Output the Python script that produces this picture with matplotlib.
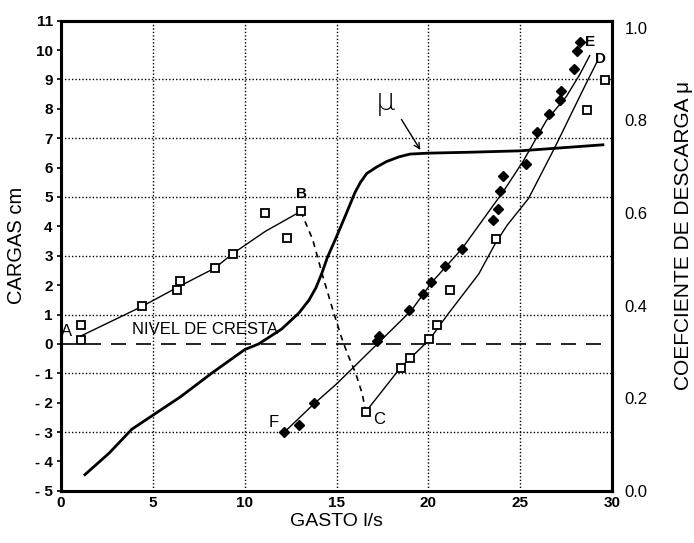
import matplotlib
matplotlib.use("Agg")
import matplotlib.pyplot as plt

plt.rcParams['font.family'] = ['Liberation Sans', 'DejaVu Sans']

# ---- data ----
# open squares, rising branch A-B
sq_ab_x = [1.10, 1.08, 4.39, 6.29, 6.50, 8.40, 9.34, 11.08, 12.31, 13.05]
sq_ab_y = [0.65, 0.14, 1.30, 1.84, 2.14, 2.59, 3.07, 4.45, 3.60, 4.51]
# fitted line A-B
line_ab_x = [1.08, 4.39, 6.35, 8.37, 9.34, 11.12, 13.05]
line_ab_y = [0.27, 1.27, 1.93, 2.58, 3.07, 3.83, 4.51]
# dashed transition B-C
line_bc_x = [13.05, 13.7, 14.25, 14.8, 15.25, 15.6, 16.05, 16.4, 16.55]
line_bc_y = [4.51, 3.55, 2.30, 1.15, 0.25, -0.35, -1.02, -1.70, -2.20]
# open squares, branch C-D
sq_cd_x = [16.59, 18.49, 18.98, 20.02, 20.44, 21.20, 23.70, 28.64, 29.64]
sq_cd_y = [-2.30, -0.82, -0.48, 0.18, 0.65, 1.82, 3.57, 7.95, 8.98]
# fitted line C-D
line_cd_x = [16.6, 18.49, 20.05, 21.07, 22.74, 23.67, 24.3, 25.45, 26.87, 27.87, 28.60, 29.18]
line_cd_y = [-2.30, -0.80, 0.14, 1.02, 2.38, 3.45, 4.05, 4.95, 6.67, 7.95, 8.88, 9.60]
# filled diamonds, branch F-E
dm_x = [12.16, 12.94, 13.75, 17.22, 17.31, 18.94, 19.69, 20.15, 20.89, 21.85,
        23.52, 23.80, 23.89, 24.07, 25.30, 25.91, 26.56, 27.15, 27.24, 27.95, 28.09, 28.27]
dm_y = [-2.98, -2.75, -2.01, 0.11, 0.28, 1.16, 1.70, 2.12, 2.66, 3.23,
        4.21, 4.60, 5.20, 5.71, 6.13, 7.20, 7.81, 8.30, 8.59, 9.35, 9.95, 10.26]
# fitted line F-E
line_fe_x = [12.16, 13.75, 15.0, 17.22, 19.07, 20.19, 21.84, 24.09, 25.15, 26.42, 27.51, 28.24, 28.78]
line_fe_y = [-3.00, -2.05, -1.36, 0.00, 1.14, 2.10, 3.25, 5.20, 6.21, 7.60, 8.42, 9.17, 9.81]
# discharge coefficient mu (right axis)
mu_x = [1.30, 2.63, 3.85, 6.5, 8.2, 10.0, 10.75, 12.0, 12.95, 13.5, 13.87, 14.2, 14.5,
        15.0, 15.5, 16.0, 16.3, 16.64, 17.18, 17.73, 18.4, 19.0, 20.0, 22.3, 25.0, 29.5]
mu_y = [0.035, 0.082, 0.133, 0.203, 0.254, 0.305, 0.317, 0.349, 0.384, 0.412, 0.438, 0.470, 0.504,
        0.549, 0.596, 0.644, 0.666, 0.685, 0.699, 0.711, 0.721, 0.727, 0.729, 0.731, 0.734, 0.747]

x_ticks = [0, 5, 10, 15, 20, 25, 30]
y_ticks = list(range(-5, 12))
y_labels = [("- %d" % -v) if v < 0 else str(v) for v in y_ticks]
mu_ticks = [0.0, 0.2, 0.4, 0.6, 0.8, 1.0]
mu_labels = ["0.0", "0.2", "0.4", "0.6", "0.8", "1.0"]

# ---- figure ----
fig = plt.figure(figsize=(6.94, 5.43), dpi=100)
ax = fig.add_axes([0.088, 0.096, 0.794, 0.866])
ax.set_xlim(0, 30)
ax.set_ylim(-5, 11)

# grid
for gx in [5, 10, 15, 20, 25]:
    ax.axvline(gx, color='black', lw=1.0, ls=(0, (1, 1.5)), zorder=1)
for gy in [-3, -1, 1, 3, 5, 7, 9]:
    ax.axhline(gy, color='black', lw=1.0, ls=(0, (1, 1.5)), zorder=1)
ax.axhline(0, color='black', lw=1.2, ls=(0, (9, 6)), zorder=2)

# lines
ax.plot(line_ab_x, line_ab_y, color='black', lw=1.0, zorder=3)
ax.plot(line_bc_x, line_bc_y, color='black', lw=1.2, ls=(0, (3.5, 3)), zorder=3)
ax.plot(line_cd_x, line_cd_y, color='black', lw=1.0, zorder=3)
ax.plot(line_fe_x, line_fe_y, color='black', lw=1.0, zorder=3)

# markers
ax.plot(sq_ab_x, sq_ab_y, ls='none', marker='s', ms=6, mfc='white', mec='black', mew=1.3, zorder=4)
ax.plot(sq_cd_x, sq_cd_y, ls='none', marker='s', ms=6, mfc='white', mec='black', mew=1.3, zorder=4)
ax.plot(dm_x, dm_y, ls='none', marker='D', ms=5, mfc='black', mec='black', zorder=4)

# labels on the chart
lab = dict(fontsize=12, color='black', zorder=5)
ax.text(0.3, 0.42, 'A', ha='center', va='center', **lab)
ax.text(13.1, 5.1, 'B', ha='center', va='center', fontweight='bold', fontsize=11)
ax.text(17.3, -2.58, 'C', ha='center', va='center', **lab)
ax.text(29.35, 9.70, 'D', ha='center', va='center', fontweight='bold', fontsize=11)
ax.text(28.8, 10.28, 'E', ha='center', va='center', fontweight='bold', fontsize=11)
ax.text(11.6, -2.67, 'F', ha='center', va='center', **lab)
ax.text(3.85, 0.48, 'NIVEL DE CRESTA', ha='left', va='center', fontsize=12)

# ticks
ax.set_xticks(x_ticks)
ax.set_xticklabels([str(v) for v in x_ticks])
ax.set_yticks(y_ticks)
ax.set_yticklabels(y_labels)
ax.tick_params(axis='y', direction='out', length=3, width=1.2, pad=3, labelsize=11)
ax.tick_params(axis='x', direction='in', length=0, pad=4, labelsize=11)
for t in ax.get_xticklabels() + ax.get_yticklabels():
    t.set_fontweight('bold')
for s in ax.spines.values():
    s.set_linewidth(2.2)

ax.set_xlabel('GASTO l/s', fontsize=14, labelpad=2)
ax.set_ylabel('CARGAS cm', fontsize=14.5)
ax.yaxis.set_label_coords(-0.064, 0.523)

# right axis
ax2 = ax.twinx()
ax2.set_ylim(0, 1.015)
ax2.plot(mu_x, mu_y, color='black', lw=2.0, zorder=3)
ax2.set_yticks(mu_ticks)
ax2.set_yticklabels(mu_labels)
ax2.tick_params(axis='y', length=0, pad=9, labelsize=12)
ax2.set_ylabel('COEFCIENTE DE DESCARGA μ', fontsize=15)
ax2.yaxis.set_label_coords(1.112, 0.543)
for s in ax2.spines.values():
    s.set_linewidth(2.2)

# mu annotation
ax.annotate('', xy=(19.64, 6.52), xytext=(18.45, 7.72),
            arrowprops=dict(arrowstyle='->', color='black', lw=1.0), zorder=5)
ax.text(17.64, 8.25, 'μ', fontsize=22, ha='center', va='center',
        family=['DejaVu Sans'], fontweight='light')

fig.savefig('out.png', dpi=100)
